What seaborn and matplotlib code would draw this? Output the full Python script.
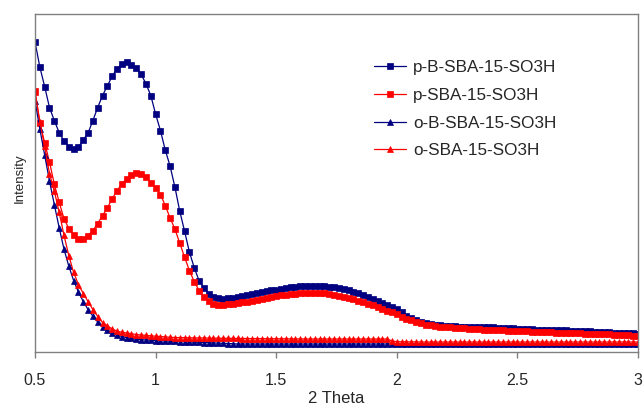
import matplotlib
matplotlib.use("Agg")
import matplotlib.pyplot as plt
import seaborn as sns
import numpy as np
import pandas as pd

# 2-theta positions (step 0.02 from 0.50 to 3.00)
two_theta = [round(0.5 + 0.02 * i, 2) for i in range(126)]

p_B_SBA = [310.3, 285, 265.5, 244.5, 231.5, 219.5, 211, 205.5, 203, 205,
           212, 219, 231.5, 244.5, 256.5, 266, 276, 283, 288, 290,
           287.5, 283.7, 277.7, 268.3, 256.5, 238, 221.5, 202, 186, 165,
           141, 121, 100, 84.5, 71.5, 64.2, 58.5, 55.2, 53.7, 53.5,
           53.7, 54.2, 55, 56, 56.7, 57.7, 58.7, 59.7, 60.7, 61.7,
           62.5, 63.2, 64, 64.7, 65.2, 65.7, 66, 66, 66, 66,
           66, 65.5, 65, 64.2, 63, 61.7, 60.3, 58.7, 57, 55,
           53, 51, 49, 46.7, 44.7, 42.7, 40.5, 36.5, 34.2, 32.5,
           30.5, 29, 28.2, 27.5, 27, 26.5, 26.2, 25.8, 25.5, 25.3,
           25.2, 25, 25, 24.8, 24.7, 24.7, 24.5, 24.2, 24, 23.7,
           23.5, 23.2, 23, 22.7, 22.5, 22.4, 22.2, 22, 21.9, 21.7,
           21.6, 21.5, 21.3, 21.2, 21, 20.7, 20.5, 20.2, 20, 19.7,
           19.5, 19.3, 19.1, 18.9, 18.7, 18.5]

p_SBA = [261.3, 229, 209.5, 190, 168, 150, 133.5, 123.5, 117, 113.3,
         113, 116.5, 121.5, 128.5, 136.5, 144, 153.5, 161, 168.5, 173,
         177, 178.7, 177.8, 175, 169.5, 164.5, 157.5, 146.5, 134, 123,
         109, 95, 81.5, 70.5, 61.5, 55, 50.7, 48.2, 47.5, 47.5,
         47.7, 48.2, 49, 49.6, 50.3, 51.1, 52, 53, 54, 55,
         55.8, 56.6, 57.3, 58, 58.5, 58.9, 59.2, 59.3, 59.2, 59,
         58.6, 58, 57.4, 56.5, 55.4, 54.2, 52.8, 51.3, 49.8, 48.3,
         46.8, 45.1, 43.3, 41.5, 39.7, 37.7, 35.5, 33.5, 31.7, 30,
         28.7, 27.5, 26.7, 26, 25.4, 25, 24.7, 24.4, 24, 23.7,
         23.4, 23.1, 22.8, 22.5, 22.2, 22, 21.8, 21.6, 21.4, 21.2,
         21, 20.8, 20.6, 20.4, 20.2, 20, 19.8, 19.6, 19.4, 19.2,
         19.1, 18.9, 18.8, 18.6, 18.4, 18.3, 18.1, 18, 17.8, 17.6,
         17.3, 17.1, 16.9, 16.7, 16.4, 16.2]

o_B_SBA = [251.3, 223, 197, 171, 147.5, 124.5, 103, 86, 71.5, 60,
           50.5, 42.5, 35.8, 30, 25.3, 21.8, 19.2, 17, 15.5, 14.3,
           13.6, 12.8, 12.4, 12, 11.8, 11.5, 11.3, 11.1, 10.9, 10.7,
           10.5, 10.3, 10.1, 9.9, 9.7, 9.5, 9.3, 9.1, 8.9, 8.7,
           8.5, 8.3, 8, 8, 8, 8, 8, 8, 8, 8,
           8, 8, 8, 8, 8, 8, 8, 8, 8, 8,
           8, 8, 8, 8, 8, 8, 8, 8, 8, 8,
           8, 8, 8, 8, 8, 8, 8, 8, 8, 8,
           8, 8, 8, 8, 8, 8, 8, 8, 8, 8,
           8, 8, 8, 8, 8, 8, 8, 8, 8, 8,
           8, 8, 8, 8, 8, 8, 8, 8, 8, 8,
           8, 8, 8, 8, 8, 8, 8, 8, 8, 8,
           8, 8, 8, 8, 8, 8]

o_SBA = [260.3, 230.5, 205.7, 178.5, 161, 140, 117, 96.5, 79.7, 67.5,
         58.5, 50.5, 42.5, 35.5, 29.5, 26.2, 23, 20.8, 19.8, 19,
         18.2, 17.5, 17, 16.6, 16.2, 15.8, 15.5, 15.1, 14.7, 14.5,
         14.4, 14.3, 14.2, 14.1, 14, 14, 13.9, 13.8, 13.8, 13.7,
         13.7, 13.6, 13.6, 13.5, 13.5, 13.4, 13.4, 13.3, 13.3, 13.3,
         13.2, 13.2, 13.2, 13.1, 13.1, 13.1, 13, 13, 13, 13,
         13, 13, 13, 13, 13, 13, 13, 13, 13, 13,
         13, 13, 13, 13, 11, 10.3, 10.2, 10.2, 10.1, 10.1,
         10, 10, 10, 10, 10, 10, 10, 10, 10, 10,
         10, 10, 10, 10, 10, 10, 10, 10, 10, 10,
         10, 10, 10, 10, 10, 10, 10, 10, 10, 10,
         10, 10, 10, 10, 10, 10, 10, 10, 10, 10,
         10, 10, 10, 10, 10, 10]

series_names = ["p-B-SBA-15-SO3H", "p-SBA-15-SO3H", "o-B-SBA-15-SO3H", "o-SBA-15-SO3H"]
series_values = [p_B_SBA, p_SBA, o_B_SBA, o_SBA]
series_colors = ["#000080", "#FF0000", "#000080", "#FF0000"]
series_markers = ["s", "s", "^", "^"]

sns.set_style("white")
plt.rcParams["font.family"] = ["Liberation Sans", "DejaVu Sans"]

fig = plt.figure(figsize=(6.43, 4.03), dpi=100)
ax = fig.add_axes([35 / 643, 51 / 403, 603 / 643, 338 / 403])

for name, vals, col, mk in zip(series_names, series_values, series_colors, series_markers):
    df = pd.DataFrame({"x": two_theta, "y": vals})
    sns.lineplot(data=df, x="x", y="y", ax=ax, color=col, marker=mk,
                 markersize=4 if mk == "s" else 4.5, markeredgecolor=col,
                 markeredgewidth=0.5, linewidth=0.9, label=name)

ax.set_xlim(0.5, 3.0)
ax.set_ylim(0, 338)
ax.set_xticks([0.5, 1, 1.5, 2, 2.5, 3])
ax.set_xticklabels(["0.5", "1", "1.5", "2", "2.5", "3"])
ax.set_yticks([])
ax.tick_params(axis="x", direction="out", length=4, width=1, color="#808080",
               labelsize=11.5, pad=11, bottom=True)
for s in ax.spines.values():
    s.set_color("#808080")
    s.set_linewidth(1.0)

ax.set_xlabel("2 Theta", fontsize=12, labelpad=2)
ax.set_ylabel("Intensity", fontsize=9.5)
ax.yaxis.set_label_coords(-9 / 603, 0.515)

leg = ax.legend(loc="upper left", bbox_to_anchor=(374 / 643, 1 - 60 / 403),
                bbox_transform=fig.transFigure, frameon=False, fontsize=12.3,
                handlelength=1.9, handletextpad=0.4, labelspacing=0.75,
                borderaxespad=0, borderpad=0)

fig.savefig("out.png", dpi=100)
